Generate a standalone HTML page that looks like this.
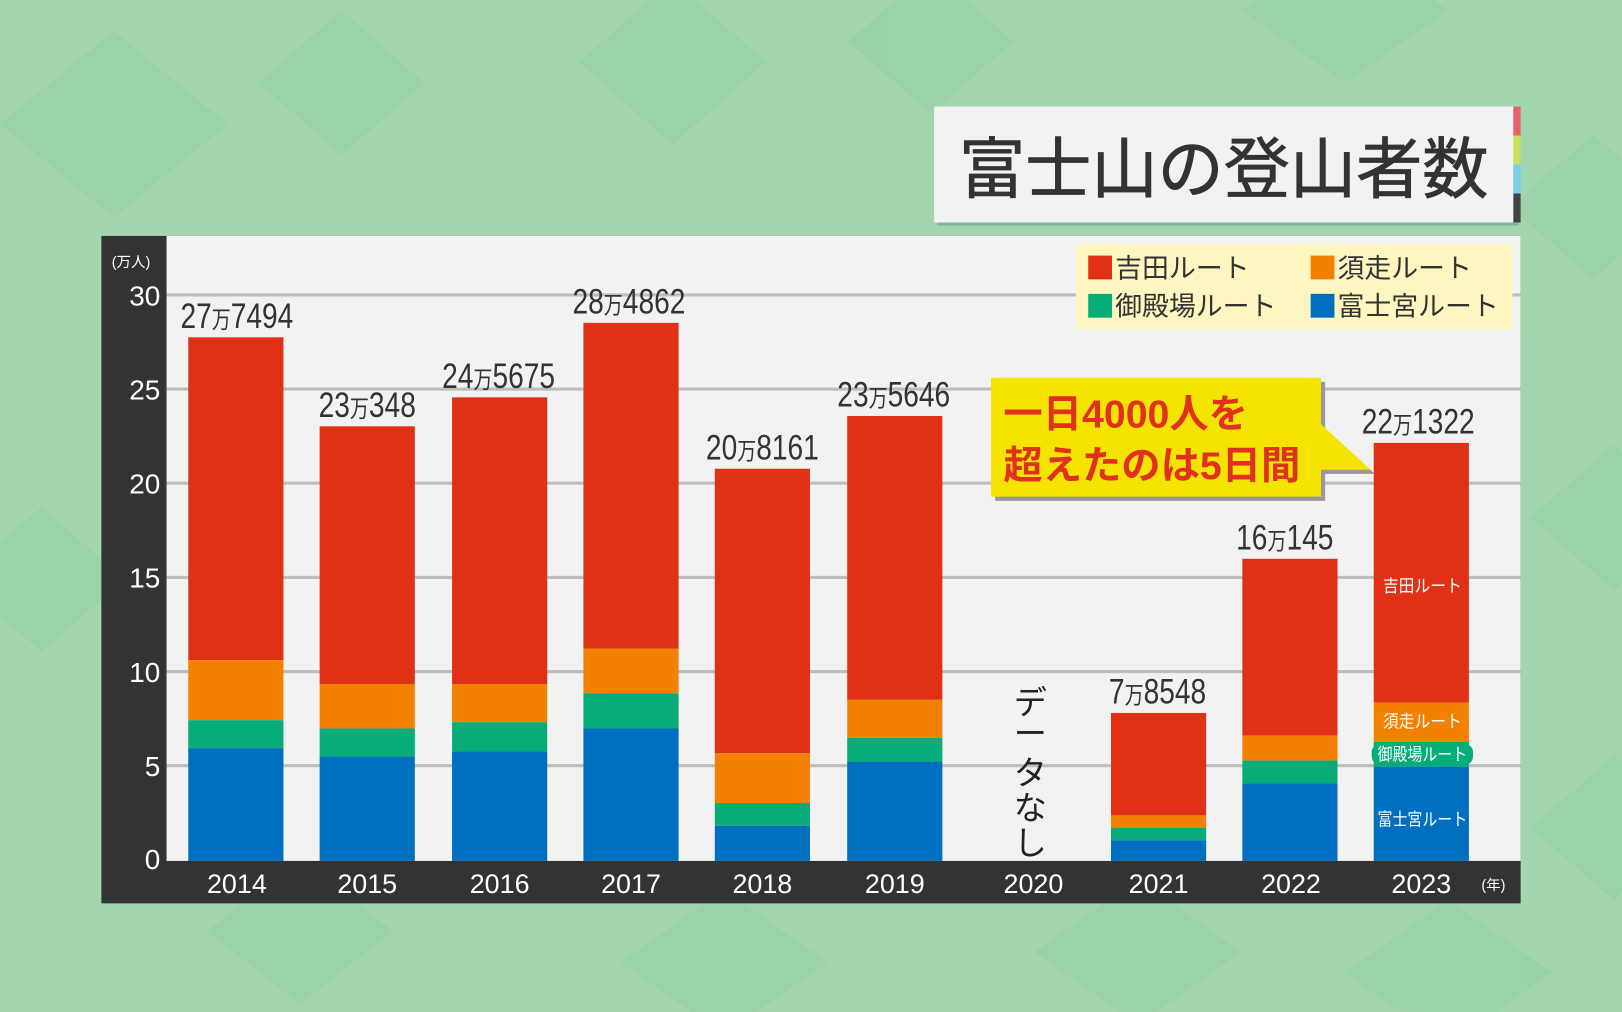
<!DOCTYPE html>
<html><head><meta charset="utf-8"><style>
html,body{margin:0;padding:0;background:#a2d6ae;}
svg{display:block}
text{font-family:"Liberation Sans","Noto Sans CJK JP",sans-serif;}
</style></head><body>
<svg width="1622" height="1012" viewBox="0 0 1568 978" preserveAspectRatio="none" xmlns="http://www.w3.org/2000/svg">
<rect width="1568" height="978" fill="#a2d6ae"/>
<g fill="#93cea1" opacity="0.5">
<polygon points="0,120 110,30 220,120 110,210"/>
<polygon points="250,80 330,10 410,80 330,150"/>
<polygon points="560,60 650,-20 740,60 650,140"/>
<polygon points="820,40 900,-30 980,40 900,110"/>
<polygon points="1200,10 1300,-60 1400,10 1300,80"/>
<polygon points="1460,200 1540,130 1620,200 1540,270"/>
<polygon points="1480,500 1560,430 1640,500 1560,570"/>
<polygon points="1480,800 1560,730 1640,800 1560,870"/>
<polygon points="-40,560 40,490 120,560 40,630"/>
<polygon points="200,900 290,830 380,900 290,970"/>
<polygon points="600,930 700,860 800,930 700,1000"/>
<polygon points="1000,920 1100,850 1200,920 1100,990"/>
<polygon points="1300,940 1400,870 1500,940 1400,1010"/>
</g>
<!-- title -->
<rect x="906" y="106" width="562" height="112" fill="#000" opacity="0.15"/>
<rect x="903" y="103" width="560" height="112" fill="#f2f2f2"/>
<rect x="1463" y="103" width="7" height="28" fill="#e8606a"/>
<rect x="1463" y="131" width="7" height="28" fill="#c9e05a"/>
<rect x="1463" y="159" width="7" height="28" fill="#7cd0ea"/>
<rect x="1463" y="187" width="7" height="28" fill="#444"/>
<text x="1183" y="186" font-size="64" fill="#333" text-anchor="middle" stroke="#333" stroke-width="0.8">富士山の登山者数</text>
<!-- panel -->
<rect x="98" y="228" width="1372" height="645" fill="#333"/>
<rect x="161" y="228" width="1309" height="604" fill="#f2f2f2"/>
<g stroke="#bdbdbd" stroke-width="3">
<line x1="161" x2="1470" y1="285" y2="285"/><line x1="161" x2="1470" y1="376" y2="376"/>
<line x1="161" x2="1470" y1="467" y2="467"/><line x1="161" x2="1470" y1="558" y2="558"/>
<line x1="161" x2="1470" y1="649" y2="649"/><line x1="161" x2="1470" y1="740" y2="740"/>
</g>
<g fill="#fff" font-size="27" text-anchor="end">
<text x="155" y="295">30</text><text x="155" y="386">25</text><text x="155" y="477">20</text>
<text x="155" y="568">15</text><text x="155" y="659">10</text><text x="155" y="750">5</text><text x="155" y="840">0</text>
</g>
<text x="108" y="258" font-size="14" fill="#fff">(万人)</text>
<!-- bars -->
<g>
<rect x="182" y="326" width="92" height="312" fill="#e03016"/><rect x="182" y="638" width="92" height="58" fill="#f28100"/><rect x="182" y="696" width="92" height="27" fill="#06ad78"/><rect x="182" y="723" width="92" height="109" fill="#006fbf"/>
<rect x="309" y="412" width="92" height="249" fill="#e03016"/><rect x="309" y="661" width="92" height="43" fill="#f28100"/><rect x="309" y="704" width="92" height="27" fill="#06ad78"/><rect x="309" y="731" width="92" height="101" fill="#006fbf"/>
<rect x="437" y="384" width="92" height="277" fill="#e03016"/><rect x="437" y="661" width="92" height="37" fill="#f28100"/><rect x="437" y="698" width="92" height="28" fill="#06ad78"/><rect x="437" y="726" width="92" height="106" fill="#006fbf"/>
<rect x="564" y="312" width="92" height="315" fill="#e03016"/><rect x="564" y="627" width="92" height="43" fill="#f28100"/><rect x="564" y="670" width="92" height="34" fill="#06ad78"/><rect x="564" y="704" width="92" height="128" fill="#006fbf"/>
<rect x="691" y="453" width="92" height="275" fill="#e03016"/><rect x="691" y="728" width="92" height="48" fill="#f28100"/><rect x="691" y="776" width="92" height="22" fill="#06ad78"/><rect x="691" y="798" width="92" height="34" fill="#006fbf"/>
<rect x="819" y="402" width="92" height="274" fill="#e03016"/><rect x="819" y="676" width="92" height="37" fill="#f28100"/><rect x="819" y="713" width="92" height="23" fill="#06ad78"/><rect x="819" y="736" width="92" height="96" fill="#006fbf"/>
<rect x="1074" y="689" width="92" height="99" fill="#e03016"/><rect x="1074" y="788" width="92" height="12" fill="#f28100"/><rect x="1074" y="800" width="92" height="12" fill="#06ad78"/><rect x="1074" y="812" width="92" height="20" fill="#006fbf"/>
<rect x="1201" y="540" width="92" height="171" fill="#e03016"/><rect x="1201" y="711" width="92" height="24" fill="#f28100"/><rect x="1201" y="735" width="92" height="22" fill="#06ad78"/><rect x="1201" y="757" width="92" height="75" fill="#006fbf"/>
<rect x="1328" y="428" width="92" height="251" fill="#e03016"/><rect x="1328" y="679" width="92" height="38" fill="#f28100"/><rect x="1328" y="717" width="92" height="24" fill="#06ad78"/><rect x="1328" y="741" width="92" height="91" fill="#006fbf"/>
</g>
<g font-size="34" fill="#333" text-anchor="middle">
<text transform="translate(229,317) scale(0.8,1)">27<tspan font-size="23">万</tspan>7494</text>
<text transform="translate(355,403) scale(0.8,1)">23<tspan font-size="23">万</tspan>348</text>
<text transform="translate(482,375) scale(0.8,1)">24<tspan font-size="23">万</tspan>5675</text>
<text transform="translate(608,303) scale(0.8,1)">28<tspan font-size="23">万</tspan>4862</text>
<text transform="translate(737,444) scale(0.8,1)">20<tspan font-size="23">万</tspan>8161</text>
<text transform="translate(864,393) scale(0.8,1)">23<tspan font-size="23">万</tspan>5646</text>
<text transform="translate(1119,680) scale(0.8,1)">7<tspan font-size="23">万</tspan>8548</text>
<text transform="translate(1242,531) scale(0.8,1)">16<tspan font-size="23">万</tspan>145</text>
<text transform="translate(1371,419) scale(0.8,1)">22<tspan font-size="23">万</tspan>1322</text>
</g>
<g font-size="32" fill="#222" text-anchor="middle">
<text x="996" y="690">デ</text><text x="996" y="720">ー</text><text x="996" y="758">タ</text><text x="996" y="792">な</text><text x="996" y="826">し</text>
</g>
<g fill="#fff" font-size="26" text-anchor="middle">
<text x="229" y="863">2014</text><text x="355" y="863">2015</text><text x="483" y="863">2016</text>
<text x="610" y="863">2017</text><text x="737" y="863">2018</text><text x="865" y="863">2019</text>
<text x="999" y="863">2020</text><text x="1120" y="863">2021</text><text x="1248" y="863">2022</text><text x="1374" y="863">2023</text>
</g>
<text x="1432" y="860" font-size="14" fill="#fff">(年)</text>
<g fill="#fff" font-size="17" text-anchor="middle">
<text transform="translate(1375,572) scale(0.9,1)">吉田ルート</text>
<text transform="translate(1375,703) scale(0.9,1)">須走ルート</text>
<rect x="1326" y="719" width="98" height="20" rx="8" fill="#06ad78"/>
<text transform="translate(1375,735) scale(0.85,1)">御殿場ルート</text>
<text transform="translate(1375,798) scale(0.85,1)">富士宮ルート</text>
</g>
<!-- legend -->
<rect x="1040" y="236" width="422" height="82" fill="#fdf6c0"/>
<rect x="1052" y="247" width="23" height="23" fill="#e03016"/>
<rect x="1267" y="247" width="23" height="23" fill="#f28100"/>
<rect x="1052" y="284" width="23" height="23" fill="#06ad78"/>
<rect x="1267" y="284" width="23" height="23" fill="#006fbf"/>
<g font-size="26" fill="#333">
<text x="1078" y="268">吉田ルート</text><text x="1293" y="268">須走ルート</text>
<text x="1078" y="305">御殿場ルート</text><text x="1293" y="305">富士宮ルート</text>
</g>
<!-- callout -->
<polygon points="962,369 1281,369 1281,414 1329,458 1281,458 1281,484 962,484" fill="#999"/>
<polygon points="958,365 1277,365 1277,410 1325,454 1277,454 1277,480 958,480" fill="#f5e400"/>
<g font-size="38" font-weight="bold" fill="#e0301e">
<text x="970" y="413">一日4000人を</text>
<text x="970" y="463">超えたのは5日間</text>
</g>
</svg>
</body></html>
